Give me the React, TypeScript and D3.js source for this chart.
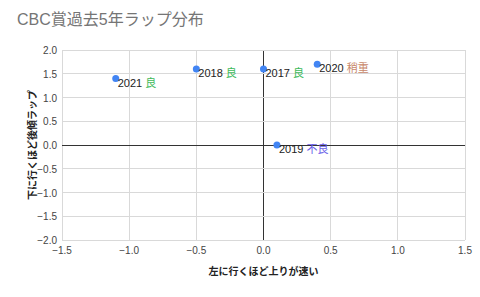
import React, { useRef, useEffect } from 'react';
import * as d3 from 'd3';

const years = ['2021', '2018', '2017', '2020', '2019'];
const xValues = [-1.1, -0.5, 0, 0.4, 0.1];
const yValues = [1.4, 1.6, 1.6, 1.7, 0];
const conditions = ['良', '良', '良', '稍重', '不良'];
const conditionColors: Record<string, string> = { '良': '#3dba5a', '稍重': '#c8876a', '不良': '#6a5ee8' };
const xTicks = [-1.5, -1.0, -0.5, 0, 0.5, 1.0, 1.5];
const yTicks = [2.0, 1.5, 1.0, 0.5, 0, -0.5, -1.0, -1.5, -2.0];

const App = () => {
  const ref = useRef<SVGSVGElement>(null);

  useEffect(() => {
    const svg = d3.select(ref.current);
    svg.selectAll('*').remove();
    const font = 'Arial, "Liberation Sans", "Noto Sans CJK JP", sans-serif';

    const x = d3.scaleLinear().domain([-1.5, 1.5]).range([62, 465]);
    const y = d3.scaleLinear().domain([-2, 2]).range([240, 50]);

    svg.append('rect').attr('width', 480).attr('height', 297).attr('fill', '#fff');

    // title
    svg.append('text')
      .attr('x', 17).attr('y', 25)
      .attr('font-family', font).attr('font-size', 16)
      .attr('fill', '#757575')
      .text('CBC賞過去5年ラップ分布');

    // gridlines
    const g = svg.append('g');
    g.selectAll('.vx').data(xTicks).join('line')
      .attr('x1', d => x(d)).attr('x2', d => x(d))
      .attr('y1', y(2)).attr('y2', y(-2))
      .attr('stroke', d => (d === 0 ? '#333' : '#d9d9d9')).attr('stroke-width', 1)
      .attr('shape-rendering', 'crispEdges');
    g.selectAll('.hy').data(yTicks).join('line')
      .attr('y1', d => y(d)).attr('y2', d => y(d))
      .attr('x1', x(-1.5)).attr('x2', x(1.5))
      .attr('stroke', d => (d === 0 ? '#333' : '#d9d9d9')).attr('stroke-width', 1)
      .attr('shape-rendering', 'crispEdges');

    // tick labels
    g.selectAll('.yl').data(yTicks).join('text')
      .attr('x', 57).attr('y', d => y(d) + 4)
      .attr('text-anchor', 'end')
      .attr('font-family', font).attr('font-size', 10).attr('fill', '#444')
      .text(d => d3.format('.1f')(d));
    g.selectAll('.xl').data(xTicks).join('text')
      .attr('x', d => x(d)).attr('y', 254)
      .attr('text-anchor', 'middle')
      .attr('font-family', font).attr('font-size', 10).attr('fill', '#444')
      .text(d => d3.format('.1f')(d));

    // axis titles
    svg.append('text')
      .attr('x', x(0)).attr('y', 275)
      .attr('text-anchor', 'middle')
      .attr('font-family', font).attr('font-size', 10).attr('font-weight', 'bold').attr('fill', '#222')
      .text('左に行くほど上りが速い');
    svg.append('text')
      .attr('transform', `translate(36,${y(0)}) rotate(-90)`)
      .attr('text-anchor', 'middle')
      .attr('font-family', font).attr('font-size', 10).attr('font-weight', 'bold').attr('fill', '#222')
      .text('下に行くほど後傾ラップ');

    // points
    const data = years.map((yr, i) => ({ yr, x: xValues[i], y: yValues[i], c: conditions[i] }));
    svg.selectAll('.pt').data(data).join('circle')
      .attr('cx', d => x(d.x)).attr('cy', d => y(d.y)).attr('r', 3.5)
      .attr('fill', '#4285f4');

    const labels = svg.selectAll('.lb').data(data).join('text')
      .attr('x', d => x(d.x) + 2).attr('y', d => y(d.y) + 8)
      .attr('font-family', font).attr('font-size', 11);
    labels.append('tspan').attr('fill', '#222').text(d => d.yr + ' ');
    labels.append('tspan').attr('fill', d => conditionColors[d.c]).text(d => d.c);
  }, []);

  return (
    <svg ref={ref} width={480} height={297} style={{ position: 'absolute', left: 0, top: 0 }} />
  );
};

export default App;
